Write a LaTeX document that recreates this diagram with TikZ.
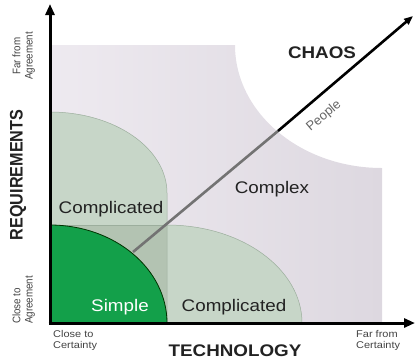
\documentclass[tikz,border=0pt]{standalone}
\usepackage{fontspec}
\setmainfont{Liberation Sans}
\usetikzlibrary{arrows.meta}
\newcommand{\hst}[1]{\scalebox{1.12}[1]{#1}}
\definecolor{complexA}{HTML}{EEEAF0}
\definecolor{complexB}{HTML}{DDD8E0}
\definecolor{compl}{HTML}{C7D6C8}
\definecolor{overl}{HTML}{B3C3B2}
\definecolor{simp}{HTML}{13A04A}
\definecolor{edgeg}{HTML}{9CAE9D}
\definecolor{txt}{HTML}{222222}
\begin{document}
\begin{tikzpicture}[x=1pt,y=-1pt,
  bigb/.style={inner sep=0pt,text=txt,font=\fontsize{16.8}{19}\selectfont\bfseries},
  midt/.style={inner sep=0pt,text=txt,font=\fontsize{16.8}{19}\selectfont},
  smallt/.style={inner sep=0pt,text=txt!85,font=\fontsize{9.8}{11}\selectfont},
  axis/.style={line width=3pt,-{Triangle[width=9pt,length=11pt]}},
  regionedge/.style={draw=edgeg,line width=0.5pt}]
\useasboundingbox (0,0) rectangle (415,360);
% complex region with chaos cut-out
\shade[left color=complexA,right color=complexB]
  (50,45) -- (235,45) arc[start angle=180,end angle=90,x radius=147,y radius=123]
  -- (382,323) -- (50,323) -- cycle;
% complicated (requirements)
\fill[compl] (50,323) -- (50,112) arc[start angle=270,end angle=360,x radius=117,y radius=81]
  -- (167,323) -- cycle;
% complicated (technology)
\fill[compl] (50,225) -- (167,225) arc[start angle=270,end angle=360,x radius=135,y radius=98]
  -- (50,323) -- cycle;
% overlap
\fill[overl] (50,225) rectangle (167,323);
\draw[regionedge] (50,112) arc[start angle=270,end angle=360,x radius=117,y radius=81] -- (167,323);
\draw[regionedge] (167,225) arc[start angle=270,end angle=360,x radius=135,y radius=98];
\draw[regionedge] (50,225) -- (167,225);
% simple
\fill[simp] (50,323) -- (50,225) arc[start angle=270,end angle=360,x radius=117,y radius=98] -- cycle;
\draw[line width=0.8pt,draw=black!80!green] (50,225) arc[start angle=270,end angle=360,x radius=117,y radius=98];
% people line
\coordinate (pstart) at (133,252);
\coordinate (pmid) at (278,131);
\coordinate (ptip) at (413,16);
\draw[line width=2.6pt,draw=black!55] (pstart) -- (pmid);
\draw[line width=2.6pt,-{Triangle[width=7pt,length=9pt]}] (pmid) -- (ptip);
% axes
\coordinate (origin) at (50,323);
\coordinate (ytip) at (50,4);
\coordinate (xtip) at (415,323);
\draw[axis] ([yshift=1.5pt]origin) -- (ytip);
\draw[axis] ([xshift=-1.5pt]origin) -- (xtip);
% texts
\node[bigb] (chaos) at (322,53) {\hst{CHAOS}};
\node[bigb] (tech) at (235,351) {\hst{TECHNOLOGY}};
\node[inner sep=0pt,text=txt] (req) at (18,175) {\hst{\rotatebox{90}{\fontsize{16.2}{18}\selectfont\bfseries REQUIREMENTS}}};
\node[midt] (cmplA) at (111,209) {\hst{Complicated}};
\node[midt] (cmplx) at (272,189) {\hst{Complex}};
\node[midt,text=white] (simple) at (120,307) {\hst{Simple}};
\node[midt] (cmplB) at (234,307) {\hst{Complicated}};
\node[inner sep=0pt,text=black!60,font=\fontsize{13}{15}\selectfont,rotate=40] (people) at (324,116) {People};
\node[smallt] (farag) at (24,56) {\hst{\rotatebox{90}{\begin{tabular}{@{}c@{}}Far from\\Agreement\end{tabular}}}};
\node[smallt] (closeag) at (24,300) {\hst{\rotatebox{90}{\begin{tabular}{@{}l@{}}Close to\\Agreement\end{tabular}}}};
\node[smallt,anchor=north west] (closecert) at (53,330) {\hst{\begin{tabular}{@{}l@{}}Close to\\Certainty\end{tabular}}};
\node[smallt,anchor=north west] (farcert) at (356,330) {\hst{\begin{tabular}{@{}l@{}}Far from\\Certainty\end{tabular}}};
\end{tikzpicture}
\end{document}
